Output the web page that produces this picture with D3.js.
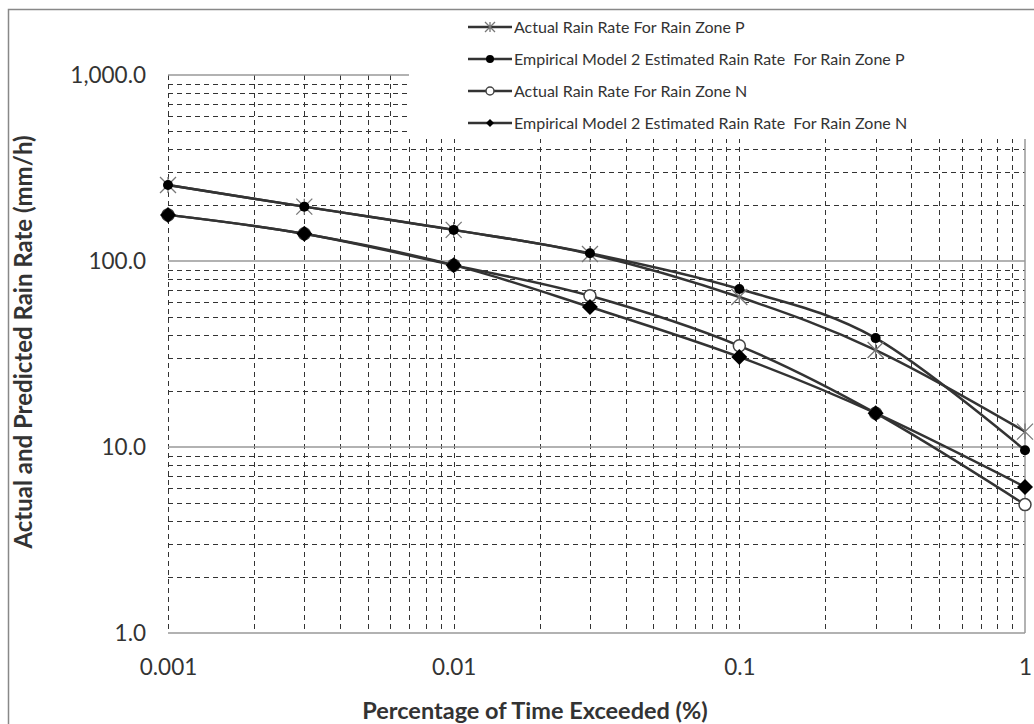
<!DOCTYPE html>
<html>
<head>
<meta charset="utf-8">
<script src="https://cdn.jsdelivr.net/npm/d3@7"></script>
<style>
  body { margin: 0; background: #fff; }
  text { font-family: Lato, "Open Sans", sans-serif; fill: #333; }
</style>
</head>
<body>
<div id="chart-area"></div>
<script>
// percentage of time exceeded (%)
const percents = [0.001, 0.003, 0.01, 0.03, 0.1, 0.3, 1];
const actualP = [256, 196, 147, 109, 64, 33.2, 12.1];
const modelP = [256, 196, 147, 110, 70.7, 38.5, 9.6];
const actualN = [177, 140, 95, 65, 35, 15.2, 4.9];
const modelN = [177, 140, 95, 56.6, 30.5, 15.2, 6.1];
const seriesNames = [
    "Actual Rain Rate For Rain Zone P",
    "Empirical Model 2 Estimated Rain Rate  For Rain Zone P",
    "Actual Rain Rate For Rain Zone N",
    "Empirical Model 2 Estimated Rain Rate  For Rain Zone N"
];
const xTicks = [0.001, 0.01, 0.1, 1];
const yTicks = [1, 10, 100, 1000];

const W = 1034, H = 724;
const PLOT = { LEFT: 168, RIGHT: 1025, TOP: 75, BOTTOM: 633 };

const svg = d3.select("#chart-area").append("svg")
    .attr("width", W)
    .attr("height", H);

// chart border
svg.append("rect")
    .attr("x", 8.5).attr("y", 9.5)
    .attr("width", 1040).attr("height", 740)
    .attr("fill", "none")
    .attr("stroke", "#888")
    .attr("stroke-width", 1.5);

const x = d3.scaleLog()
    .domain([0.001, 1])
    .range([PLOT.LEFT, PLOT.RIGHT]);

const y = d3.scaleLog()
    .domain([1, 1000])
    .range([PLOT.BOTTOM, PLOT.TOP]);

// minor gridlines
const yMinor = y.ticks().filter(v => !yTicks.includes(+v.toPrecision(3)));

const grid = svg.append("g");

grid.selectAll(".vgrid")
    .data(x.ticks().filter(v => v < 0.999))
    .enter().append("line")
    .attr("x1", d => Math.round(x(d)) + 0.5)
    .attr("x2", d => Math.round(x(d)) + 0.5)
    .attr("y1", PLOT.TOP)
    .attr("y2", PLOT.BOTTOM)
    .attr("stroke", "#333")
    .attr("stroke-width", 1)
    .attr("stroke-dasharray", "5,4");

grid.selectAll(".hgrid")
    .data(yMinor)
    .enter().append("line")
    .attr("x1", PLOT.LEFT)
    .attr("x2", PLOT.RIGHT)
    .attr("y1", d => Math.round(y(d)) + 0.5)
    .attr("y2", d => Math.round(y(d)) + 0.5)
    .attr("stroke", "#333")
    .attr("stroke-width", 1)
    .attr("stroke-dasharray", "5,4");

// major horizontal lines
grid.selectAll(".hmajor")
    .data(yTicks)
    .enter().append("line")
    .attr("x1", PLOT.LEFT)
    .attr("x2", PLOT.RIGHT)
    .attr("y1", d => y(d))
    .attr("y2", d => y(d))
    .attr("stroke", "#999")
    .attr("stroke-width", 1.5);

// right border
grid.append("line")
    .attr("x1", PLOT.RIGHT).attr("x2", PLOT.RIGHT)
    .attr("y1", PLOT.TOP).attr("y2", PLOT.BOTTOM)
    .attr("stroke", "#999")
    .attr("stroke-width", 1.5);

// axis labels
const yAxisCall = d3.axisLeft(y)
    .tickValues(yTicks)
    .tickSize(0)
    .tickPadding(22)
    .tickFormat(d3.format(",.1f"));

const yAxis = svg.append("g")
    .attr("transform", `translate(${PLOT.LEFT}, 0)`)
    .call(yAxisCall);
yAxis.select(".domain").remove();
yAxis.selectAll("text")
    .style("font-size", "22.5px")
    .attr("fill", "#404040");

const xAxisCall = d3.axisBottom(x)
    .tickValues(xTicks)
    .tickSize(0)
    .tickPadding(26)
    .tickFormat(d => String(d));

const xAxis = svg.append("g")
    .attr("transform", `translate(0, ${PLOT.BOTTOM})`)
    .call(xAxisCall);
xAxis.select(".domain").remove();
xAxis.selectAll("text")
    .style("font-size", "22.5px")
    .attr("fill", "#404040");

// axis titles
svg.append("text")
    .attr("x", 535)
    .attr("y", 719)
    .attr("text-anchor", "middle")
    .style("font-size", "23.5px")
    .style("font-weight", "bold")
    .text("Percentage of Time Exceeded (%)");

svg.append("text")
    .attr("transform", `translate(32, 342) rotate(-90)`)
    .attr("text-anchor", "middle")
    .style("font-size", "24px")
    .style("font-weight", "bold")
    .text("Actual and Predicted Rain Rate (mm/h)");

// legend background covers part of the plot
svg.append("rect")
    .attr("x", 409).attr("y", 11)
    .attr("width", 640).attr("height", 128)
    .attr("fill", "#fff");

// markers
const star = (g, s) => {
    g.append("path")
        .attr("d", `M${-s},${-s}L${s},${s}M${-s},${s}L${s},${-s}M0,${-s}L0,${s}`)
        .attr("stroke", "#777")
        .attr("stroke-width", 1.3)
        .attr("fill", "none");
};
const dot = (g, s) => {
    g.append("circle").attr("r", s).attr("fill", "#000");
};
const ring = (g, s) => {
    g.append("circle").attr("r", s)
        .attr("fill", "#fff")
        .attr("stroke", "#444")
        .attr("stroke-width", 1.5);
};
const diamond = (g, s) => {
    g.append("path")
        .attr("d", `M0,${-s}L${s},0L0,${s}L${-s},0Z`)
        .attr("fill", "#000");
};

const series = [
    { name: seriesNames[0], values: actualP, marker: star, size: 8, legSize: 5 },
    { name: seriesNames[1], values: modelP, marker: dot, size: 5, legSize: 4 },
    { name: seriesNames[2], values: actualN, marker: ring, size: 6, legSize: 4 },
    { name: seriesNames[3], values: modelN, marker: diamond, size: 8, legSize: 4 }
];

const line = d3.line()
    .x(d => x(d.p))
    .y(d => y(d.v))
    .curve(d3.curveCardinal.tension(0));

const plot = svg.append("g");

series.forEach(s => {
    const pts = percents.map((p, i) => ({ p: p, v: s.values[i] }));
    plot.append("path")
        .datum(pts)
        .attr("d", line)
        .attr("fill", "none")
        .attr("stroke", "#333")
        .attr("stroke-width", 2.5);
});

series.forEach(s => {
    percents.forEach((p, i) => {
        const g = plot.append("g")
            .attr("transform", `translate(${x(p)}, ${y(s.values[i])})`);
        s.marker(g, s.size);
    });
});

// legend
const legend = svg.append("g");
series.forEach((s, i) => {
    const ly = 27 + i * 32;
    legend.append("line")
        .attr("x1", 468).attr("x2", 512)
        .attr("y1", ly).attr("y2", ly)
        .attr("stroke", "#333")
        .attr("stroke-width", 2.5);
    const g = legend.append("g").attr("transform", `translate(490, ${ly})`);
    s.marker(g, s.legSize);
    legend.append("text")
        .attr("x", 514)
        .attr("y", ly)
        .attr("dy", "0.35em")
        .style("font-size", "16px")
        .style("white-space", "pre")
        .text(s.name);
});
</script>
</body>
</html>
